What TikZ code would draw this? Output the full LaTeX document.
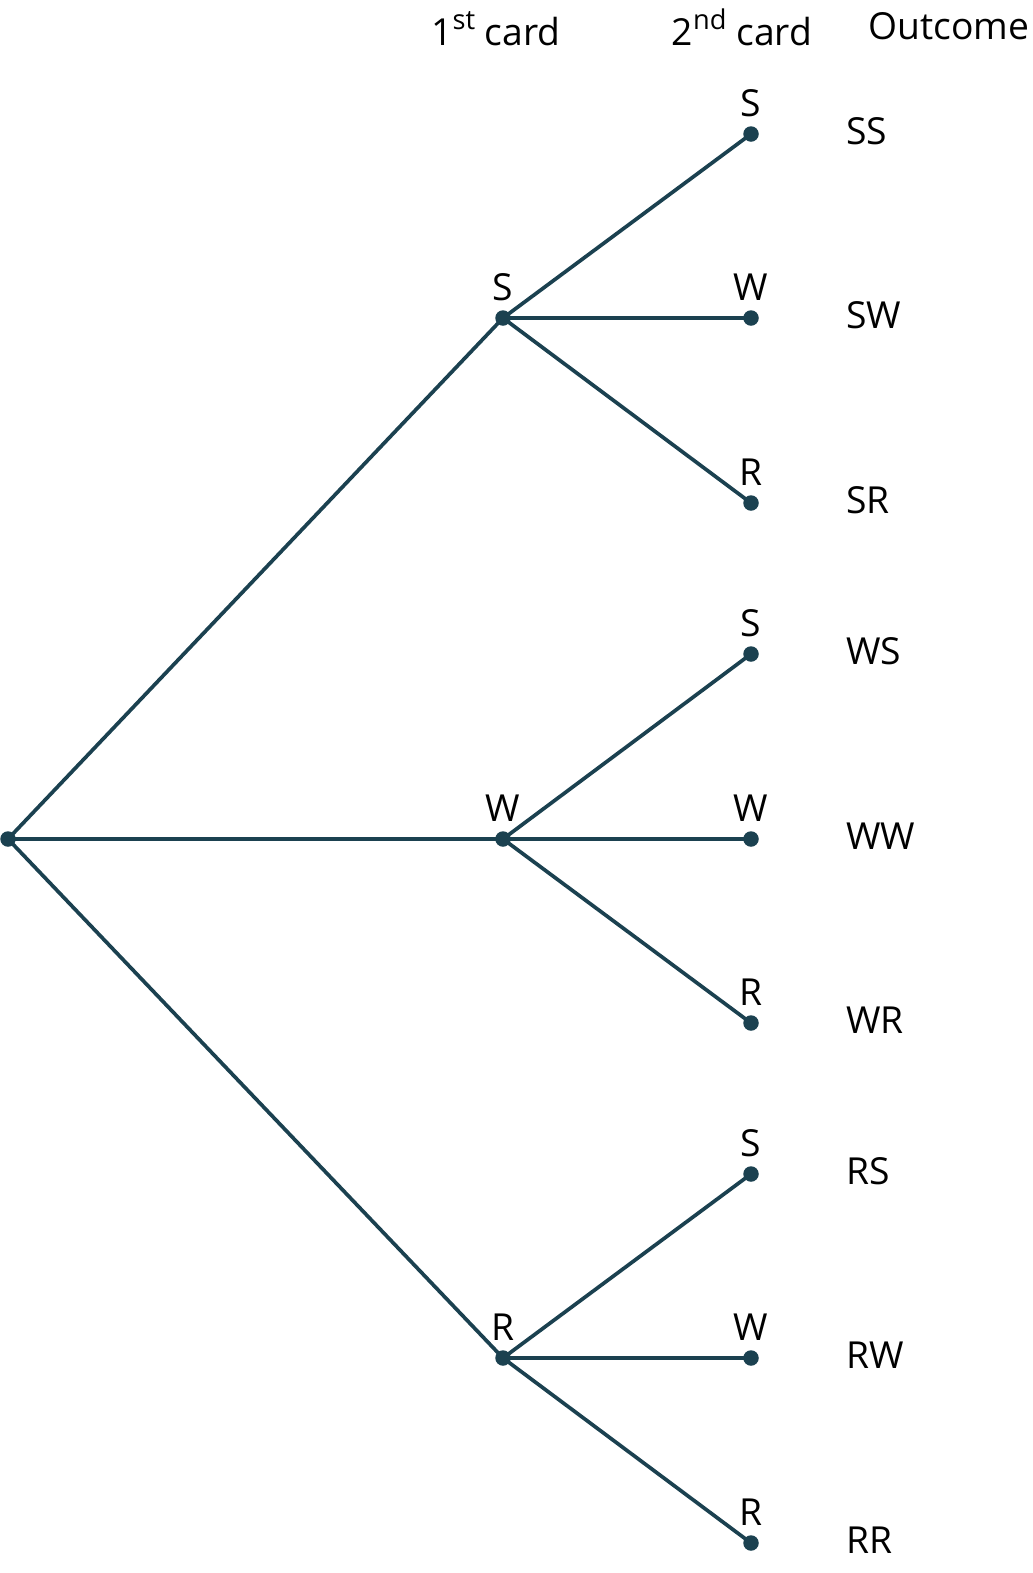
\documentclass[tikz,border=0pt]{standalone}
\usepackage{fontspec}
\setmainfont{Open Sans}
\usepackage{xcolor}
\usepackage{tikz}
\definecolor{branch}{HTML}{1B4150}
\newcommand{\ordsup}[1]{\raisebox{0.42em}{\fontsize{15.5}{18}\selectfont #1}}

\begin{document}
\begin{tikzpicture}[x=0.02cm,y=-0.02cm,
      every node/.style={font=\fontsize{21.2}{25}\selectfont},
      dot/.style={circle,fill=branch,inner sep=0pt,minimum size=0.31cm},
      lbl/.style={inner sep=0pt},
      outc/.style={anchor=west,inner sep=0pt},
      head/.style={inner sep=0pt},
      branchline/.style={branch,line width=2.1pt},
      label distance=0.18cm]
      \useasboundingbox (0,0) rectangle (1033,1573);
      % headings
      \node[head,anchor=base] (h1) at (496,45) {1\ordsup{st} card};
      \node[head,anchor=base] (h2) at (742,45) {2\ordsup{nd} card};
      \node[head,anchor=base west] (h3) at (868,39) {Outcome};
      % root and first card
      \node[dot] (root) at (8,839) {};
      \node[dot,label={[lbl]above:S}] (s) at (503,318) {};
      \node[dot,label={[lbl]above:W}] (w) at (503,839) {};
      \node[dot,label={[lbl]above:R}] (r) at (503,1358) {};
      % second card
      \node[dot,label={[lbl]above:S}] (ss) at (751,134) {};
      \node[dot,label={[lbl]above:W}] (sw) at (751,318) {};
      \node[dot,label={[lbl]above:R}] (sr) at (751,503) {};
      \node[dot,label={[lbl]above:S}] (ws) at (751,654) {};
      \node[dot,label={[lbl]above:W}] (ww) at (751,839) {};
      \node[dot,label={[lbl]above:R}] (wr) at (751,1023) {};
      \node[dot,label={[lbl]above:S}] (rs) at (751,1174) {};
      \node[dot,label={[lbl]above:W}] (rw) at (751,1358) {};
      \node[dot,label={[lbl]above:R}] (rr) at (751,1543) {};
      % outcomes
      \node[outc] (oss) at (846,131) {SS};
      \node[outc] (osw) at (846,315) {SW};
      \node[outc] (osr) at (846,500) {SR};
      \node[outc] (ows) at (846,651) {WS};
      \node[outc] (oww) at (846,836) {WW};
      \node[outc] (owr) at (846,1020) {WR};
      \node[outc] (ors) at (846,1171) {RS};
      \node[outc] (orw) at (846,1355) {RW};
      \node[outc] (orr) at (846,1540) {RR};
      % branches
      \draw[branchline] (root.center)--(s.center); \draw[branchline] (root.center)--(w.center); \draw[branchline] (root.center)--(r.center);
      \draw[branchline] (s.center)--(ss.center); \draw[branchline] (s.center)--(sw.center); \draw[branchline] (s.center)--(sr.center);
      \draw[branchline] (w.center)--(ws.center); \draw[branchline] (w.center)--(ww.center); \draw[branchline] (w.center)--(wr.center);
      \draw[branchline] (r.center)--(rs.center); \draw[branchline] (r.center)--(rw.center); \draw[branchline] (r.center)--(rr.center);
    \end{tikzpicture}
\end{document}
